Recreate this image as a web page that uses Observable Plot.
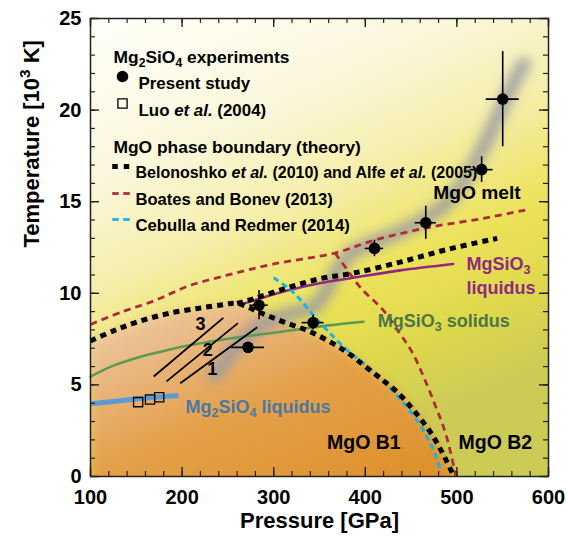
<!DOCTYPE html>
<html><head><meta charset="utf-8">
<script src="https://cdn.jsdelivr.net/npm/d3@7"></script>
<script src="https://cdn.jsdelivr.net/npm/@observablehq/plot@0.6"></script>
<style>body{margin:0;background:#fff}</style>
</head><body><div id="chart"></div>
<script>
// ---------------- data ----------------
const presentP    = [272, 284, 343, 410, 466, 527, 550];
const presentT    = [7.05, 9.35, 8.4, 12.45, 13.85, 16.75, 20.6];
const presentPErr = [18, 10, 12, 10, 11.5, 12.5, 18];
const presentTErr = [0, 0.8, 0.4, 0.45, 0.9, 0.7, 2.6];

const luoP = [152, 165, 175];
const luoT = [4.06, 4.2, 4.33];

// Belonoshko / Alfe: B1 boundary (B1 liquid + B1/B2) and melting line
const b1P = [100, 125, 152, 185, 220, 245, 260, 285, 310, 340, 370, 385, 400, 418, 435, 453, 470, 483, 493, 497];
const b1T = [7.4, 7.95, 8.45, 8.9, 9.2, 9.38, 9.45, 8.95, 8.45, 7.9, 7.1, 6.6, 6.0, 5.3, 4.6, 3.6, 2.5, 1.4, 0.4, 0];
const meltP = [260, 278, 315, 351, 387, 438, 490, 544];
const meltT = [9.45, 9.7, 10.3, 10.8, 11.1, 11.7, 12.4, 13.0];

// Boates and Bonev
const bbMeltP = [100, 135, 170, 207, 250, 300, 367, 410, 470, 530, 580];
const bbMeltT = [8.3, 9.0, 9.6, 10.4, 11.0, 11.6, 12.2, 12.9, 13.6, 14.1, 14.6];
const bbB2P = [367, 380, 395, 420, 437, 451, 464, 477, 488, 499];
const bbB2T = [12.2, 11.3, 10.3, 9.05, 7.85, 6.8, 5.4, 3.8, 2.3, 0];

// Cebulla and Redmer
const crP = [300, 318, 330, 345, 360, 380, 400, 418, 442, 460, 471, 478, 482];
const crT = [10.85, 10.2, 9.6, 8.7, 7.9, 6.9, 6.1, 5.3, 4.0, 2.8, 1.8, 1.0, 0.3];

// MgSiO3 liquidus / solidus, Mg2SiO4 liquidus
const msLiqP = [268, 315, 350, 387, 438, 496];
const msLiqT = [9.45, 10.15, 10.55, 10.85, 11.25, 11.6];
const msSolP = [100, 125, 152, 180, 207, 235, 262, 300, 330, 360, 398];
const msSolT = [5.45, 6.05, 6.5, 6.85, 7.15, 7.4, 7.6, 7.85, 8.05, 8.25, 8.45];
const m2sLiqP = [100, 130, 160, 196];
const m2sLiqT = [3.97, 4.12, 4.28, 4.42];

// gray guide band (MgO melting trend)
const bandP = [235, 262, 290, 320, 345, 358, 370, 388, 411, 440, 467, 490, 510, 528, 548, 562, 573];
const bandT = [5.5, 7.2, 8.4, 8.9, 9.3, 10.2, 11.3, 12.3, 12.8, 13.4, 14.1, 15.0, 16.3, 17.9, 20.0, 21.5, 22.5];

// segments 1,2,3
const hugLabel  = ["1", "2", "3"];
const hugStartP = [198, 183, 169];
const hugStartT = [5.09, 5.19, 5.46];
const hugEndP   = [282, 261, 245];
const hugEndT   = [8.15, 8.37, 8.66];
const hugLabelP = [233, 228, 220];
const hugLabelT = [5.84, 6.88, 8.33];

// region / curve labels
const regionText = ["MgO melt", "MgSiO<sub>3</sub>\nliquidus", "MgSiO<sub>3</sub> solidus", "Mg<sub>2</sub>SiO<sub>4</sub> liquidus", "MgO B1", "MgO B2"];
const regionP = [522, 510.5, 413.6, 203.7, 398.4, 542];
const regionT = [15.5, 11.08, 8.5, 3.78, 1.82, 1.82];

// legend
const legendHeads = ["Mg<sub>2</sub>SiO<sub>4</sub> experiments", "MgO phase boundary (theory)"];
const legendLabels = ["Present study", "Luo <i>et al.</i> (2004)",
  "Belonoshko <i>et al.</i> (2010) and Alfe <i>et al.</i> (2005)",
  "Boates and Bonev (2013)", "Cebulla and Redmer (2014)"];

// axes
const xMajor = [100, 200, 300, 400, 500, 600];
const yMajor = [0, 5, 10, 15, 20, 25];
const xMinor = d3.range(100, 601, 20);
const yMinor = d3.range(0, 26, 1);
const xTitle = "Pressure [GPa]";
const yTitle = "Temperature [10<sup>3</sup> K]";

// ---------------- tables ----------------
const pts = (P, T) => P.map((p, i) => ({p, t: T[i]}));
const present = presentP.map((p, i) => ({p, t: presentT[i], pe: presentPErr[i], te: presentTErr[i]}));
const luo = pts(luoP, luoT);
const hug = hugLabel.map((l, i) => ({l, p1: hugStartP[i], t1: hugStartT[i], p2: hugEndP[i], t2: hugEndT[i], lp: hugLabelP[i], lt: hugLabelT[i]}));
const region = regionText.map((s, i) => ({s, p: regionP[i], t: regionT[i]}));

// ---------------- layout ----------------
const W = 567, H = 540, ML = 90, MR = 19, MT = 18, MB = 64;
const PW = W - ML - MR, PH = H - MT - MB;
const FONT = "'Liberation Sans', Arial, Helvetica, sans-serif";
const rect = (w, h) => ({draw(ctx) { ctx.rect(-w / 2, -h / 2, w, h); }});

const HFS = 17.4;
const LFS = [16.9, 16.9, 16.0, 16.6, 16.7];
const legendRowY = [58, 85, 148, 175, 201];
const legendHeadY = [32, 122];

const regionMark = (i, opts) => Plot.text([region[i]], {x: "p", y: "t", text: "s", fontWeight: "bold", ...opts});
const dashed = (data, stroke, width, dash) =>
  Plot.line(data, {x: "p", y: "t", stroke, strokeWidth: width, strokeDasharray: dash, strokeLinecap: "butt", strokeLinejoin: "miter", curve: "catmull-rom"});

const chart = Plot.plot({
  width: W, height: H,
  marginLeft: ML, marginRight: MR, marginTop: MT, marginBottom: MB,
  x: {domain: [100, 600]},
  y: {domain: [0, 25]},
  style: {fontFamily: FONT, color: "#000", background: "#fff", overflow: "visible"},
  marks: [
    Plot.frame({fill: "url(#bgGrad)"}),
    Plot.areaY(pts(b1P, b1T), {x: "p", y1: -1, y2: "t", fill: "url(#b1Grad)", curve: "catmull-rom", clip: true, imageFilter: "blur(4px)"}),
    Plot.line(pts(bandP, bandT), {x: "p", y: "t", stroke: "#9a9aa2", strokeWidth: 14, strokeOpacity: 0.85, curve: "catmull-rom", strokeLinecap: "round", clip: true, imageFilter: "blur(5.5px)"}),
    Plot.line(pts(m2sLiqP, m2sLiqT), {x: "p", y: "t", stroke: "#5b9bd3", strokeWidth: 5, strokeLinecap: "butt", curve: "catmull-rom"}),
    Plot.line(pts(msSolP, msSolT), {x: "p", y: "t", stroke: "#5c9a52", strokeWidth: 2.6, curve: "catmull-rom"}),
    Plot.line(pts(msLiqP, msLiqT), {x: "p", y: "t", stroke: "#8e2a80", strokeWidth: 2.6, curve: "catmull-rom"}),
    dashed(pts(bbMeltP, bbMeltT), "#b02a3a", 2.8, "7,5"),
    dashed(pts(bbB2P, bbB2T), "#b02a3a", 2.8, "7,5"),
    dashed(pts(crP, crT), "#19b2ea", 3, "6,4"),
    dashed(pts(b1P, b1T), "#000", 5, "6,5"),
    dashed(pts(meltP, meltT), "#000", 5, "6,5"),
    Plot.link(hug, {x1: "p1", y1: "t1", x2: "p2", y2: "t2", stroke: "#000", strokeWidth: 1.8}),
    Plot.text(hug, {x: "lp", y: "lt", text: "l", fontSize: 18, fontWeight: "bold"}),
    Plot.dot(luo, {x: "p", y: "t", symbol: "square", r: 5.2, stroke: "#000", strokeWidth: 1.3, fill: "none"}),
    Plot.ruleX(present.filter(d => d.te > 0), {x: "p", y1: d => d.t - d.te, y2: d => d.t + d.te, stroke: "#000", strokeWidth: 1.6}),
    Plot.ruleY(present, {y: "t", x1: d => d.p - d.pe, x2: d => d.p + d.pe, stroke: "#000", strokeWidth: 1.6}),
    Plot.dot(present, {x: "p", y: "t", r: 5.8, fill: "#000"}),
    regionMark(0, {fontSize: 19.2, fill: "#000"}),
    regionMark(1, {fontSize: 18, fill: "#8e2a80", textAnchor: "start", lineHeight: 1.1}),
    regionMark(2, {fontSize: 18, fill: "#4c7848", textAnchor: "start"}),
    regionMark(3, {fontSize: 18, fill: "#4a78a3", textAnchor: "start"}),
    regionMark(4, {fontSize: 19.5, fill: "#000"}),
    regionMark(5, {fontSize: 19.5, fill: "#000"}),
    ...legendHeads.map((s, i) => Plot.text([s], {frameAnchor: "top-left", dx: 23, dy: legendHeadY[i], text: d => d, textAnchor: "start", fontSize: HFS, fontWeight: "bold"})),
    ...legendLabels.map((s, i) => Plot.text([s], {frameAnchor: "top-left", dx: i < 2 ? 48 : 45, dy: legendRowY[i], text: d => d, textAnchor: "start", fontSize: LFS[i], fontWeight: "bold"})),
    Plot.dot([0], {frameAnchor: "top-left", dx: 32, dy: legendRowY[0], r: 5.8, fill: "#000"}),
    Plot.dot([0], {frameAnchor: "top-left", dx: 32, dy: legendRowY[1], symbol: "square", r: 5.2, stroke: "#000", strokeWidth: 1.3, fill: "none"}),
    ...[24.5, 36].map(dx => Plot.dot([0], {frameAnchor: "top-left", dx, dy: legendRowY[2], symbol: rect(5.5, 5), fill: "#000", r: 3})),
    ...[25, 36].map(dx => Plot.dot([0], {frameAnchor: "top-left", dx, dy: legendRowY[3], symbol: rect(6.5, 2.8), fill: "#b02a3a", r: 3})),
    ...[25, 36].map(dx => Plot.dot([0], {frameAnchor: "top-left", dx, dy: legendRowY[4], symbol: rect(6.5, 2.8), fill: "#19b2ea", r: 3})),
    Plot.frame({stroke: "#222", strokeWidth: 1.5}),
    Plot.tickX(xMinor, {x: d => d, insetTop: PH - 5, stroke: "#222", strokeWidth: 1.2}),
    Plot.tickX(xMinor, {x: d => d, insetBottom: PH - 5, stroke: "#222", strokeWidth: 1.2}),
    Plot.tickX(xMajor, {x: d => d, insetTop: PH - 9, stroke: "#222", strokeWidth: 1.4}),
    Plot.tickX(xMajor, {x: d => d, insetBottom: PH - 9, stroke: "#222", strokeWidth: 1.4}),
    Plot.tickY(yMinor, {y: d => d, insetRight: PW - 5, stroke: "#222", strokeWidth: 1.2}),
    Plot.tickY(yMinor, {y: d => d, insetLeft: PW - 5, stroke: "#222", strokeWidth: 1.2}),
    Plot.tickY(yMajor, {y: d => d, insetRight: PW - 9, stroke: "#222", strokeWidth: 1.4}),
    Plot.tickY(yMajor, {y: d => d, insetLeft: PW - 9, stroke: "#222", strokeWidth: 1.4}),
    Plot.axisX({ticks: xMajor, tickSize: 0, tickPadding: 13, fontSize: 20, fontWeight: "bold", label: null}),
    Plot.axisY({ticks: yMajor, tickSize: 0, tickPadding: 9, fontSize: 20, fontWeight: "bold", label: null}),
    Plot.text([xTitle], {frameAnchor: "bottom", dy: 51, text: d => d, fontSize: 22, fontWeight: "bold"}),
    Plot.text([yTitle], {frameAnchor: "left", dx: -59, rotate: -90, text: d => d, fontSize: 22, fontWeight: "bold"})
  ]
});

document.getElementById("chart").appendChild(chart);
const svg = chart.tagName.toLowerCase() === "svg" ? chart : chart.querySelector("svg");
const NS = "http://www.w3.org/2000/svg";

const defs = document.createElementNS(NS, "defs");
defs.innerHTML = `
<linearGradient id="bgGrad" x1="0" y1="0" x2="0.45" y2="1">
  <stop offset="0" stop-color="#fffffa"/>
  <stop offset="0.3" stop-color="#fbf7dc"/>
  <stop offset="0.5" stop-color="#f5eeaa"/>
  <stop offset="0.7" stop-color="#ece25a"/>
  <stop offset="0.85" stop-color="#dfd84c"/>
  <stop offset="1" stop-color="#cccb56"/>
</linearGradient>
<linearGradient id="b1Grad" x1="0" y1="0" x2="0.8" y2="1">
  <stop offset="0" stop-color="#efd3b2"/>
  <stop offset="0.3" stop-color="#e8b47a"/>
  <stop offset="0.55" stop-color="#e4a048"/>
  <stop offset="1" stop-color="#de912c"/>
</linearGradient>`;
svg.insertBefore(defs, svg.firstChild);

function richify(el) {
  const s = el.textContent;
  if (!/<(sub|sup|i)>/.test(s)) return;
  const fs = parseFloat(getComputedStyle(el).fontSize) || 16;
  const parts = s.split(/(<sub>.*?<\/sub>|<sup>.*?<\/sup>|<i>.*?<\/i>)/).filter(Boolean);
  while (el.firstChild) el.removeChild(el.firstChild);
  let shift = 0;
  for (const part of parts) {
    const t = document.createElementNS(NS, "tspan");
    let m, target = 0;
    if ((m = part.match(/^<sub>(.*)<\/sub>$/))) { t.textContent = m[1]; t.setAttribute("font-size", (fs * 0.7) + "px"); target = fs * 0.22; }
    else if ((m = part.match(/^<sup>(.*)<\/sup>$/))) { t.textContent = m[1]; t.setAttribute("font-size", (fs * 0.7) + "px"); target = -fs * 0.38; }
    else if ((m = part.match(/^<i>(.*)<\/i>$/))) { t.textContent = m[1]; t.setAttribute("font-style", "italic"); }
    else t.textContent = part;
    if (target !== shift) { t.setAttribute("dy", (target - shift) + "px"); shift = target; }
    el.appendChild(t);
  }
}
svg.querySelectorAll("text").forEach(tx => {
  const spans = tx.querySelectorAll("tspan");
  if (spans.length) spans.forEach(richify); else richify(tx);
});
</script>
</body></html>
